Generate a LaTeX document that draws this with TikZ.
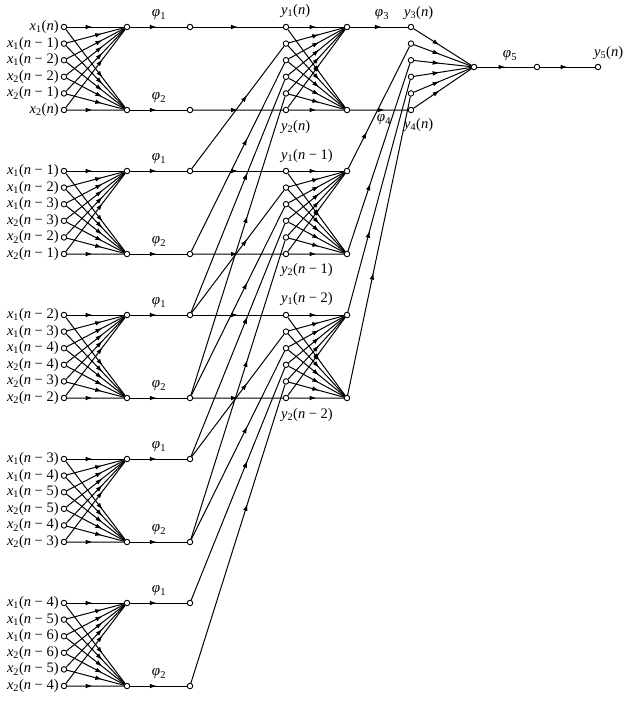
\documentclass[tikz,border=0pt]{standalone}
\usepackage{fontspec}
\setmainfont{Liberation Serif}
\usetikzlibrary{arrows.meta,decorations.markings}
\newcommand\dlag[1]{\ifnum#1=0 \textit{n}\else\textit{n} − #1\fi}
\begin{document}
\begin{tikzpicture}[x=1pt,y=-1pt,
  nd/.style={circle,draw,fill=white,inner sep=0pt,minimum size=5.5pt,line width=0.9pt},
  wire/.style={line width=1pt},
  ar/.style={wire,postaction={decorate},decoration={markings,mark=at position #1 with {\arrow{Latex[length=7pt,width=4.6pt]}}}},
  ar/.default=0.55,
  lbl/.style={font=\fontsize{14.5}{16}\selectfont,inner sep=0pt},
  phl/.style={font=\fontsize{15}{17}\selectfont,inner sep=0pt}]
\useasboundingbox (0,0) rectangle (634,702);

% ---------- layer 1 nodes ----------
\foreach \k in {0,...,4}{
  \pgfmathsetmacro{\yt}{27+144*\k}
  \pgfmathsetmacro{\yb}{\yt+83}
  \foreach \r in {0,...,5}{
    \node[nd] (i-\k-\r) at (64,\yt+16.6*\r) {};
  }
  \node[nd] (s-\k-1) at (127,\yt) {};
  \node[nd] (s-\k-2) at (127,\yb) {};
  \node[nd] (p-\k-1) at (190,\yt) {};
  \node[nd] (p-\k-2) at (190,\yb) {};
  \foreach \r/\s/\d in {0/1/0,1/1/1,2/1/2,3/2/2,4/2/1,5/2/0}{
    \pgfmathtruncatemacro{\lag}{\k+\d}
    \node[lbl,anchor=east] (li-\k-\r) at ([xshift=-2pt]i-\k-\r.west) {\textit{x}\textsubscript{\s}(\dlag{\lag})};
  }
  \node[phl] (fa-\k) at (159,\yt-12) {\textit{φ}\textsubscript{1}};
  \node[phl] (fb-\k) at (159,\yb-12) {\textit{φ}\textsubscript{2}};
}

% ---------- layer 2 nodes ----------
\foreach \k in {0,1,2}{
  \pgfmathsetmacro{\yt}{27+144*\k}
  \foreach \r in {0,...,5}{
    \node[nd] (m-\k-\r) at (286,\yt+16.6*\r) {};
  }
  \node[nd] (t-\k-1) at (347,\yt) {};
  \node[nd] (t-\k-2) at (347,\yt+83) {};
}

% ---------- layer 3 nodes ----------
\foreach \r in {0,...,5}{
  \node[nd] (c-\r) at (411,27+16.6*\r) {};
}
\node[nd] (f) at (474,67) {};
\node[nd] (g) at (537,67) {};
\node[nd] (h) at (598,67) {};

% ---------- layer 1 wires ----------
\foreach \k in {0,...,4}{
  \draw[ar=0.45] (i-\k-0) -- (s-\k-1);
  \draw[ar=0.45] (i-\k-5) -- (s-\k-2);
  \foreach \r in {1,...,5}{ \draw[ar=0.62] (i-\k-\r) -- (s-\k-1); }
  \foreach \r in {0,...,4}{ \draw[ar=0.62] (i-\k-\r) -- (s-\k-2); }
  \draw[ar=0.47] (s-\k-1) -- (p-\k-1);
  \draw[ar=0.47] (s-\k-2) -- (p-\k-2);
}

% ---------- layer 2 wires ----------
\foreach \k in {0,1,2}{
  \pgfmathtruncatemacro{\ka}{\k+1}
  \pgfmathtruncatemacro{\kb}{\k+2}
  \draw[ar=0.5] (p-\k-1) -- (m-\k-0);
  \draw[ar=0.5] (p-\k-2) -- (m-\k-5);
  \draw[ar=0.6] (p-\ka-1) -- (m-\k-1);
  \draw[ar=0.6] (p-\ka-2) -- (m-\k-2);
  \draw[ar=0.6] (p-\kb-1) -- (m-\k-3);
  \draw[ar=0.6] (p-\kb-2) -- (m-\k-4);
  \draw[ar=0.5] (m-\k-0) -- (t-\k-1);
  \draw[ar=0.5] (m-\k-5) -- (t-\k-2);
  \foreach \r in {1,...,5}{ \draw[ar=0.55] (m-\k-\r) -- (t-\k-1); }
  \foreach \r in {0,...,4}{ \draw[ar=0.55] (m-\k-\r) -- (t-\k-2); }
}

% ---------- layer 3 wires ----------
\draw[ar=0.55] (t-0-1) -- (c-0);
\draw[ar=0.6] (t-0-2) -- (c-5);
\draw[ar=0.3] (t-1-1) -- (c-1);
\draw[ar=0.36] (t-1-2) -- (c-2);
\draw[ar=0.35] (t-2-1) -- (c-3);
\draw[ar=0.41] (t-2-2) -- (c-4);
\foreach \r in {0,...,5}{ \draw[ar=0.45] (c-\r) -- (f); }
\draw[ar=0.5] (f) -- (g);
\draw[ar=0.5] (g) -- (h);

% ---------- labels ----------
\node[lbl,anchor=west] (ya0) at (281,11) {\textit{y}\textsubscript{1}(\textit{n})};
\node[lbl,anchor=west] (yb0) at (281,127) {\textit{y}\textsubscript{2}(\textit{n})};
\node[lbl,anchor=west] (ya1) at (281,156) {\textit{y}\textsubscript{1}(\textit{n} − 1)};
\node[lbl,anchor=west] (yb1) at (281,270) {\textit{y}\textsubscript{2}(\textit{n} − 1)};
\node[lbl,anchor=west] (ya2) at (281,299) {\textit{y}\textsubscript{1}(\textit{n} − 2)};
\node[lbl,anchor=west] (yb2) at (281,415) {\textit{y}\textsubscript{2}(\textit{n} − 2)};
\node[phl] (f3) at (382,15) {\textit{φ}\textsubscript{3}};
\node[phl] (f4) at (384,120) {\textit{φ}\textsubscript{4}};
\node[lbl,anchor=west] (y3) at (404,13) {\textit{y}\textsubscript{3}(\textit{n})};
\node[lbl,anchor=west] (y4) at (404,125) {\textit{y}\textsubscript{4}(\textit{n})};
\node[phl] (f5) at (510,56) {\textit{φ}\textsubscript{5}};
\node[lbl,anchor=west] (y5) at (594,53) {\textit{y}\textsubscript{5}(\textit{n})};
\end{tikzpicture}
\end{document}
